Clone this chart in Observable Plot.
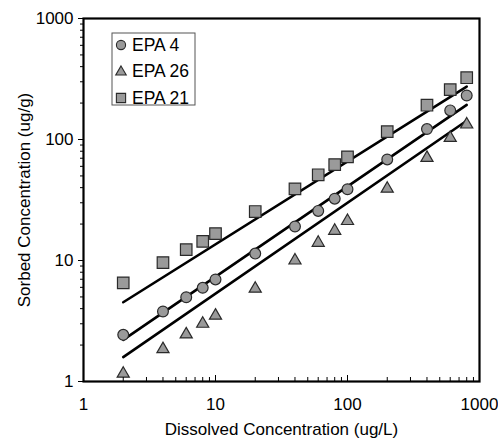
<!DOCTYPE html>
<html>
<head>
<meta charset="utf-8">
<script src="https://cdn.jsdelivr.net/npm/d3@7"></script>
<script src="https://cdn.jsdelivr.net/npm/@observablehq/plot@0.6"></script>
<style>
  html, body { margin: 0; padding: 0; background: white; }
  #wrap { position: relative; width: 498px; height: 443px; }
  #legend { position: absolute; left: 0; top: 0; }
</style>
</head>
<body>
<div id="wrap"></div>
<script>
// ---- data ----
const seriesNames = ["EPA 4", "EPA 26", "EPA 21"];
const seriesSymbols = ["circle", "triangle", "square"];
const dissolved = [2, 4, 6, 8, 10, 20, 40, 60, 80, 100, 200, 400, 600, 800];
const sorbedEPA4 = [2.43, 3.79, 4.97, 5.95, 6.97, 11.4, 19.1, 25.7, 32.4, 38.8, 68.4, 122, 174, 231];
const sorbedEPA26 = [1.16, 1.85, 2.45, 3.0, 3.5, 5.85, 10.0, 14.0, 17.6, 21.2, 39.2, 70.5, 103, 133];
const sorbedEPA21 = [6.54, 9.62, 12.3, 14.4, 16.7, 25.4, 39.1, 51.1, 62.1, 71.9, 116, 192, 258, 324];
// fitted lines (end points)
const fitDissolved = [2, 800];
const fitEPA4 = [2.21, 193];
const fitEPA26 = [1.59, 143];
const fitEPA21 = [4.52, 274];
// axes
const xTicks = [1, 10, 100, 1000];
const yTicks = [1, 10, 100, 1000];
const xMinor = [2,3,4,5,6,7,8,9,20,30,40,50,60,70,80,90,200,300,400,500,600,700,800,900];
const yMinor = xMinor;
const xLabel = "Dissolved Concentration (ug/L)";
const yLabel = "Sorbed Concentration (ug/g)";

const sorbed = [sorbedEPA4, sorbedEPA26, sorbedEPA21];
const fits = [fitEPA4, fitEPA26, fitEPA21];

const points = seriesNames.map((s, i) => dissolved.map((x, j) => ({series: s, x, y: sorbed[i][j]})));
const lines = seriesNames.map((s, i) => fitDissolved.map((x, j) => ({series: s, x, y: fits[i][j]})));

const fillGray = "#9a9a9a";
const strokeDark = "#2a2a2a";
const sizes = {circle: 5.4, triangle: 4.5, square: 6.5};

const font = "'Liberation Sans', Arial, Helvetica, sans-serif";

const chart = Plot.plot({
  width: 498,
  height: 443,
  marginLeft: 83,
  marginRight: 19,
  marginTop: 18,
  marginBottom: 62,
  style: {fontFamily: font, fontSize: "17px", background: "white", color: "black", overflow: "visible"},
  x: {type: "log", domain: [1, 1000]},
  y: {type: "log", domain: [1, 1000]},
  marks: [
    // fit lines
    ...lines.map(l => Plot.line(l, {x: "x", y: "y", stroke: "black", strokeWidth: 2.6})),
    // points
    ...points.map((p, i) => Plot.dot(p, {
      x: "x", y: "y", symbol: seriesSymbols[i], r: sizes[seriesSymbols[i]],
      fill: fillGray, stroke: strokeDark, strokeWidth: 1.2
    })),
    // x axis: minor and major ticks pointing inward
    Plot.axisX({ticks: xMinor, tickSize: -4, text: null, label: null, strokeWidth: 1}),
    Plot.axisX({ticks: xTicks, tickSize: -6, text: null, label: null, strokeWidth: 1}),
    Plot.axisX({ticks: xTicks, tickSize: 0, tickPadding: 16, tickFormat: d3.format("d"),
      label: xLabel, labelAnchor: "center", labelArrow: "none", labelOffset: 53, fontSize: 17}),
    // y axis
    Plot.axisY({ticks: yMinor, tickSize: 3, text: null, label: null, strokeWidth: 1}),
    Plot.axisY({ticks: yTicks, tickSize: 5, text: null, label: null, strokeWidth: 1}),
    Plot.axisY({ticks: yTicks, tickSize: 0, tickPadding: 10, tickFormat: d3.format("d"),
      label: yLabel, labelAnchor: "center", labelArrow: "none", labelOffset: 66, fontSize: 17}),
    Plot.frame({stroke: "black", strokeWidth: 2.2})
  ]
});

document.getElementById("wrap").appendChild(chart);

// legend overlay inside plot area
const legendSvg = d3.select("#wrap").append("svg")
  .attr("id", "legend")
  .attr("width", 498).attr("height", 443)
  .style("font-family", font);
legendSvg.append("rect")
  .attr("x", 112).attr("y", 33).attr("width", 83).attr("height", 72)
  .attr("fill", "white").attr("stroke", "#555").attr("stroke-width", 1);
const symTypes = {circle: d3.symbolCircle, triangle: d3.symbolTriangle, square: d3.symbolSquare};
const legendRowsY = [45, 71, 98];
const legendSizes = {circle: 4.6, triangle: 3.9, square: 5.2};
seriesNames.forEach((s, i) => {
  const sym = seriesSymbols[i];
  const r = legendSizes[sym];
  legendSvg.append("path")
    .attr("d", d3.symbol(symTypes[sym], Math.PI * r * r)())
    .attr("transform", `translate(121,${legendRowsY[i] + (sym === "triangle" ? 1 : 0)})`)
    .attr("fill", fillGray).attr("stroke", strokeDark).attr("stroke-width", 1.1);
  legendSvg.append("text")
    .attr("x", 132).attr("y", legendRowsY[i]).attr("dy", "0.36em")
    .attr("font-size", "17.5px").attr("fill", "black")
    .text(s);
});
</script>
</body>
</html>
